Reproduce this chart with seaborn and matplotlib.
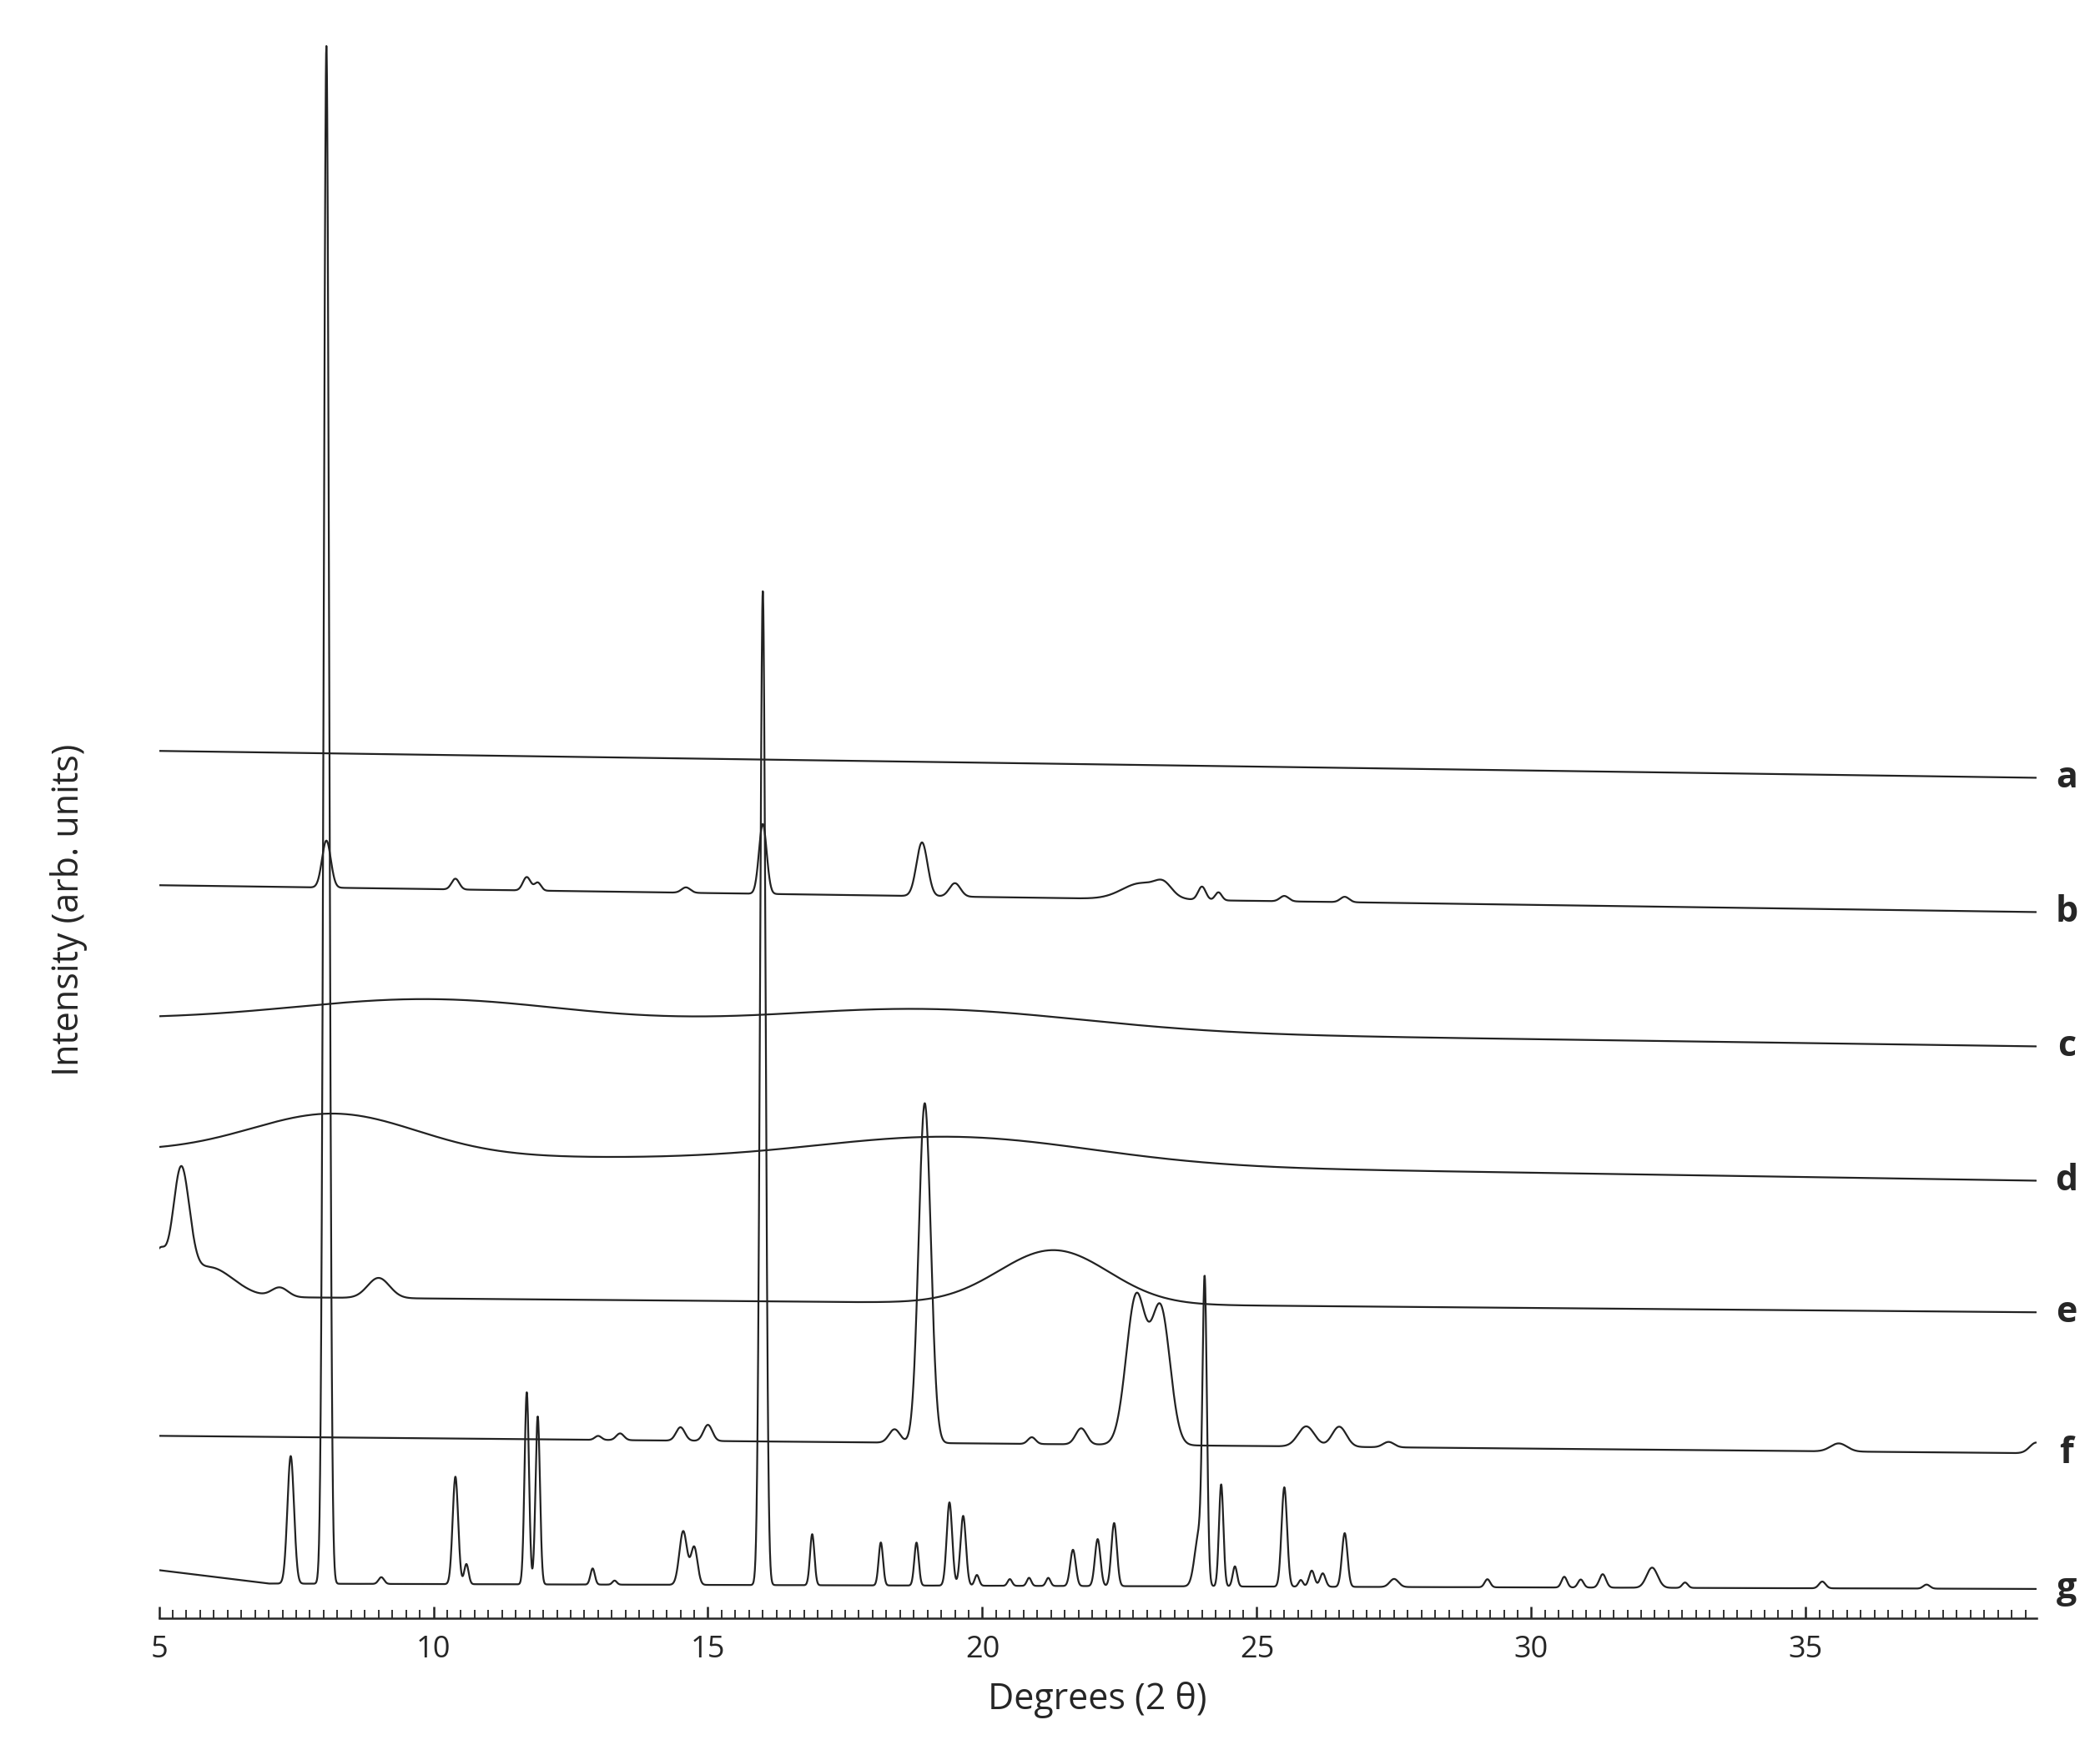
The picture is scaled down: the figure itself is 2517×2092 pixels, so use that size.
import numpy as np
import pandas as pd
import matplotlib
matplotlib.use("Agg")
import matplotlib.pyplot as plt
import seaborn as sns
from matplotlib.ticker import MultipleLocator

sns.set_style("white")
plt.rcParams['font.family'] = ['Open Sans', 'DejaVu Sans']

labels = ["a", "b", "c", "d", "e", "f", "g"]
# baseline control points (2theta, offset level)
base_x = {
    "a": [5, 39.2], "b": [5, 39.2], "c": [5, 39.2], "d": [5, 39.2],
    "e": [5, 39.2], "f": [5, 39.2], "g": [5, 7, 39.2],
}
base_y = {
    "a": [646, 626], "b": [546, 526], "c": [446, 426], "d": [348, 326],
    "e": [240, 228], "f": [136, 123], "g": [36, 26, 22],
}
# peaks: position, height, width
peaks = {
    "a": [],
    "b": [(8.05, 35, 0.08), (10.4, 8, 0.07), (11.7, 10, 0.07), (11.9, 6, 0.06), (14.6, 4, 0.08),
          (16.0, 52, 0.07), (18.9, 40, 0.1), (19.5, 10, 0.1), (22.9, 12, 0.35), (23.3, 8, 0.15),
          (24.0, 10, 0.07), (24.3, 6, 0.06), (25.5, 4, 0.08), (26.6, 4, 0.08)],
    "c": [(10.0, 18, 2.5), (19.0, 16, 2.8)],
    "d": [(8.2, 30, 1.5), (19.5, 20, 2.5)],
    "e": [(5.0, 30, 0.12), (5.4, 85, 0.15), (5.9, 22, 0.45), (7.2, 7, 0.15), (9.0, 15, 0.2),
          (21.3, 40, 1.0)],
    "f": [(13.0, 3, 0.06), (13.4, 5, 0.07), (14.5, 10, 0.08), (15.0, 12, 0.08), (18.4, 10, 0.1),
          (18.95, 253, 0.11), (20.9, 5, 0.07), (21.8, 12, 0.1), (22.8, 110, 0.18), (23.25, 100, 0.17),
          (25.9, 15, 0.15), (26.5, 15, 0.13), (27.4, 4, 0.1), (35.6, 6, 0.15), (39.2, 8, 0.12)],
    "g": [(7.4, 95, 0.06), (8.05, 1145, 0.05), (9.05, 5, 0.05), (10.4, 80, 0.05), (10.6, 15, 0.04),
          (11.7, 143, 0.04), (11.9, 125, 0.04), (12.9, 12, 0.04), (13.3, 3, 0.04), (14.55, 40, 0.07),
          (14.75, 28, 0.06), (16.0, 740, 0.05), (16.9, 38, 0.04), (18.15, 32, 0.04), (18.8, 32, 0.04),
          (19.4, 62, 0.05), (19.65, 52, 0.05), (19.9, 8, 0.04), (20.5, 5, 0.04), (20.85, 6, 0.04),
          (21.2, 6, 0.04), (21.65, 27, 0.05), (22.1, 35, 0.05), (22.4, 47, 0.05), (23.95, 40, 0.08),
          (24.05, 213, 0.04), (24.35, 76, 0.04), (24.6, 15, 0.04), (25.5, 74, 0.05), (25.8, 5, 0.04),
          (26.0, 12, 0.05), (26.2, 10, 0.05), (26.6, 40, 0.05), (27.5, 6, 0.08), (29.2, 6, 0.05),
          (30.6, 8, 0.05), (30.9, 6, 0.05), (31.3, 10, 0.06), (32.2, 15, 0.1), (32.8, 4, 0.05),
          (35.3, 5, 0.06), (37.2, 3, 0.06)],
}

x = np.arange(5.0, 39.2, 0.005)
frames = []
for lab in labels:
    y = np.interp(x, base_x[lab], base_y[lab])
    for p, h, w in peaks[lab]:
        y = y + h * np.exp(-0.5 * ((x - p) / w) ** 2)
    frames.append(pd.DataFrame({"theta": x, "intensity": y, "sample": lab}))
df = pd.concat(frames)

fig = plt.figure(figsize=(25.17, 20.92), dpi=100)
ax = fig.add_axes([0.0757, 0.0725, 0.894, 0.902])
sns.lineplot(data=df, x="theta", y="intensity", hue="sample", palette=["#222222"] * 7,
             legend=False, lw=1.6, ax=ax, estimator=None, sort=False)

for lab in labels:
    yl = base_y[lab][-1]
    ax.text(39.75, yl, lab, fontsize=31, fontweight="bold", va="center", ha="center",
            family=["Open Sans", "DejaVu Sans"], clip_on=False)

ax.set_xlim(5, 39.2)
ax.set_ylim(0, 1172)
ax.set_yticks([])
for s in ["top", "right", "left"]:
    ax.spines[s].set_visible(False)
ax.spines["bottom"].set_linewidth(1.8)
ax.xaxis.set_major_locator(MultipleLocator(5))
ax.xaxis.set_minor_locator(MultipleLocator(0.25))
ax.tick_params(axis="x", which="both", bottom=True, direction="in", color="#222222")
ax.tick_params(axis="x", which="major", length=10, width=1.8, labelsize=26, pad=14)
ax.tick_params(axis="x", which="minor", length=7, width=1.3)
ax.set_xlabel("Degrees (2 θ)", fontsize=31, labelpad=14)
ax.set_ylabel("Intensity (arb. units)", fontsize=31, labelpad=30)
ax.yaxis.set_label_coords(-0.038, 0.45)
fig.savefig("out.png", dpi=100)
